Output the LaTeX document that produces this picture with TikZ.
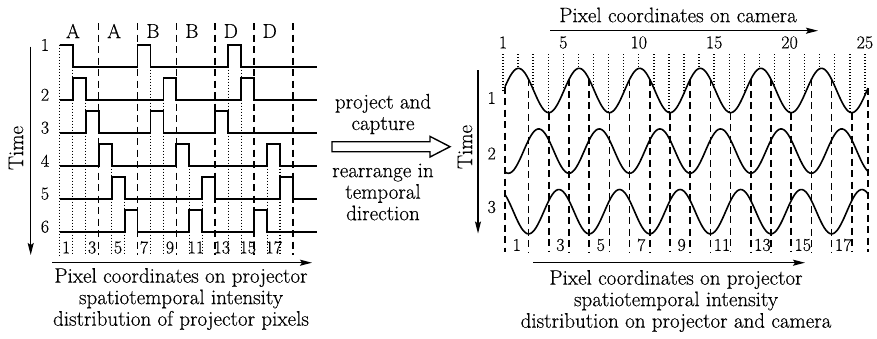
\documentclass[tikz,border=0pt]{standalone}
\usepackage{fontspec}
\setmainfont{Latin Modern Roman}[FakeBold=0.35]
\usetikzlibrary{arrows.meta}
\begin{document}
\begin{tikzpicture}[x=1pt,y=-1pt,
  wave/.style={line width=1.9pt,line join=miter},
  dashline/.style={line width=1.7pt,dash pattern=on 7pt off 4.5pt},
  dotline/.style={line width=1.4pt,dash pattern=on 1.3pt off 1.7pt},
  axisarrow/.style={line width=1.3pt,-{Stealth[length=12pt,width=6pt,inset=2pt]}},
  txt/.style={inner sep=0pt,font=\fontsize{21}{21.5}\selectfont,align=center},
  lett/.style={inner sep=0pt,font=\fontsize{20}{20}\selectfont},
  num/.style={inner sep=0pt,font=\fontsize{18}{18}\selectfont}]
\useasboundingbox (0,0) rectangle (877,338);
\fill[white] (0,0) rectangle (877,338);
% ---------------- left panel ----------------
\def\xo{59.7}
\def\w{12.97}
% dashed group boundaries
\foreach \g in {1,...,6}{
  \pgfmathsetmacro\xx{\xo+3*\g*\w}
  \draw[dashline] (\xx,23) -- (\xx,255);
}
% dotted boundaries
\draw[dotline] (\xo,44.7) -- (\xo,255);
\foreach \b/\r in {1/1,2/2,4/4,5/5,7/1,8/2,10/4,11/5,13/1,14/1,16/4,17/4}{
  \pgfmathsetmacro\xx{\xo+\b*\w}
  \pgfmathsetmacro\yy{66.7+33*(\r-1)}
  \draw[dotline] (\xx,\yy) -- (\xx,255);
}
% waveforms
\foreach \r/\a/\b/\c in {1/0/6/13,2/1/8/14,3/2/7/12,4/3/9/16,5/4/11/17,6/5/10/15}{
  \pgfmathsetmacro\lo{66.7+33*(\r-1)}
  \pgfmathsetmacro\hi{\lo-22}
  \pgfmathsetmacro\sy{\a==0 ? \hi : \lo}
  \pgfmathsetmacro\xa{\xo+\a*\w}
  \pgfmathsetmacro\xb{\xo+\b*\w}
  \pgfmathsetmacro\xc{\xo+\c*\w}
  \draw[wave] (\xo,\sy) -- (\xa,\sy) -- (\xa,\hi) -- ({\xa+\w},\hi) -- ({\xa+\w},\lo)
     -- (\xb,\lo) -- (\xb,\hi) -- ({\xb+\w},\hi) -- ({\xb+\w},\lo)
     -- (\xc,\lo) -- (\xc,\hi) -- ({\xc+\w},\hi) -- ({\xc+\w},\lo) -- (317,\lo);
}
% row labels
\node[num] (lr1) at (45,45) {1};
\foreach \r in {2,...,6}{
  \pgfmathsetmacro\yy{66.7+33*(\r-1)-5}
  \node[num] (lr\r) at (45,\yy) {\r};
}
% group letters
\node[lett] (g0) at (73,31) {A};
\foreach \g/\t in {1/A,2/B,3/B,4/D,5/D}{
  \pgfmathsetmacro\xx{\xo+3*\g*\w+15.5}
  \node[lett] (g\g) at (\xx,31) {\t};
}
% bottom numbers
\foreach \n in {1,3,...,17}{
  \pgfmathsetmacro\xx{\xo+(\n-0.5)*\w}
  \node[num] (ln\n) at (\xx,247.5) {\n};
}
% time axis
\coordinate (lt1) at (30.7,46.7);
\coordinate (lt2) at (30.7,255);
\draw[axisarrow] (lt1) -- (lt2);
\node[txt,rotate=90] (ltime) at (16,148) {Time};
% pixel axis
\coordinate (lh1) at (52,262.7);
\coordinate (lh2) at (312,262.7);
\draw[axisarrow] (lh1) -- (lh2);
\node[txt] (lcap) at (181,299) {Pixel coordinates on projector\\spatiotemporal intensity\\distribution of projector pixels};
% ---------------- middle ----------------
\node[txt] (mid1) at (383,114) {project and\\capture};
\node[txt] (mid2) at (383,192) {rearrange in\\temporal\\direction};
\draw[line width=1.4pt,line join=miter] (332,141.7) -- (430,141.7) -- (430,136.4) -- (450,146.7)
  -- (430,157.0) -- (430,151.7) -- (332,151.7) -- cycle;
% ---------------- right panel ----------------
% dotted camera pixel lines
\foreach \n in {1,...,25}{
  \pgfmathsetmacro\xx{503+15.08*(\n-1)}
  \pgfmathsetmacro\yy{90.5-22.2*cos(((\xx-518.5)/60.6)*360)}
  \draw[dotline] (\xx,54) -- (\xx,\yy);
}
% dashed projector pixel lines
\foreach \k in {0,...,18}{
  \pgfmathsetmacro\xx{\k==0 ? 505 : (\k==18 ? 868 : 548.8+20.2*(\k-2))}
  \pgfmathsetmacro\yy{90.5-22.2*cos(((\xx-518.5)/60.6)*360)}
  \draw[dashline] (\xx,\yy) -- (\xx,252);
}
% sine curves
\foreach \r in {0,1,2}{
  \draw[line width=1.6pt] plot[domain=505:868,samples=200,smooth]
    (\x,{90.5+60.6*\r-22.2*cos(((\x-518.5-20.2*\r)/60.6)*360)});
}
% camera numbers
\foreach \n in {1,5,10,15,20,25}{
  \pgfmathsetmacro\xx{503+15.08*(\n-1)}
  \node[num] (cn\n) at (\xx,42.5) {\n};
}
\node[txt] (rtitle) at (678,15) {Pixel coordinates on camera};
\coordinate (rt1) at (550,30.7);
\coordinate (rt2) at (818,30.7);
\draw[axisarrow] (rt1) -- (rt2);
% row labels
\node[num] (rr1) at (491.7,98) {1};
\node[num] (rr2) at (491.7,153.5) {2};
\node[num] (rr3) at (491.7,207) {3};
\coordinate (rv1) at (478,70);
\coordinate (rv2) at (478,233.5);
\draw[axisarrow] (rv1) -- (rv2);
\node[txt,rotate=90] (rtime) at (465,147) {Time};
% bottom projector numbers
\foreach \n in {1,3,...,17}{
  \pgfmathsetmacro\xx{\n==1 ? 516.8 : 548.8+20.2*(\n-2.5)+1.5}
  \node[num] (pn\n) at (\xx,245) {\n};
}
\coordinate (rb1) at (533,262.7);
\coordinate (rb2) at (805,262.7);
\draw[axisarrow] (rb1) -- (rb2);
\node[txt] (rcap) at (676,301) {Pixel coordinates on projector\\spatiotemporal intensity\\distribution on projector and camera};
\end{tikzpicture}
\end{document}
